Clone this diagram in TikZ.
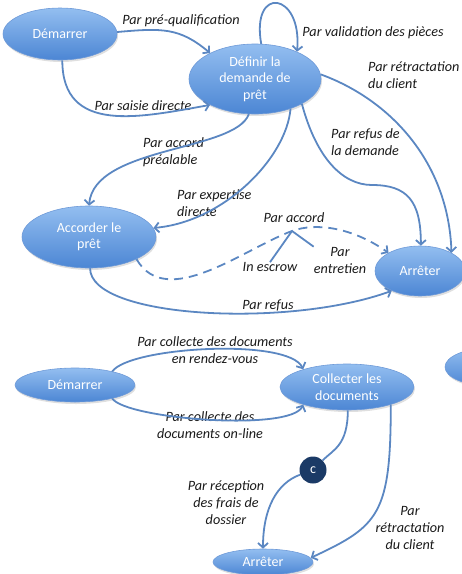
\documentclass[tikz,border=0pt]{standalone}
\usepackage{fontspec}
\setmainfont{Carlito}
\usetikzlibrary{shapes.geometric,arrows.meta,shadows}
\definecolor{edgeblue}{HTML}{5B87C2}
\definecolor{elltop}{HTML}{93BEF0}
\definecolor{ellbot}{HTML}{4C86D4}
\definecolor{elledge}{HTML}{6E9AD8}
\definecolor{labeltext}{HTML}{1A1A1A}
\definecolor{navy}{HTML}{1B3A66}
\begin{document}
\begin{tikzpicture}[x=1pt,y=1pt,
  st/.style={ellipse, inner sep=0pt, top color=elltop, bottom color=ellbot,
    draw=elledge, line width=0.6pt, text=white, align=center,
    font=\fontsize{14}{16.5}\selectfont,
    drop shadow={opacity=0.25, shadow xshift=1pt, shadow yshift=-2pt}},
  lbl/.style={font=\itshape\fontsize{14.2}{17}\selectfont, text=labeltext, inner sep=0pt},
  link/.style={draw=edgeblue, line width=1.8pt},
  conn/.style={link, -{Straight Barb[length=4.5pt,width=10pt]}},
]
\useasboundingbox (0,0) rectangle (462,-574);
\clip (0,0) rectangle (462,-574);

% ---- top diagram nodes
\node[st, minimum width=114pt, minimum height=52pt] (d1) at (60,-34) {Démarrer};
\node[st, minimum width=132pt, minimum height=70pt] (def) at (255,-79) {Définir la\\demande de\\prêt};
\node[st, minimum width=134pt, minimum height=62pt] (acc) at (89,-237) {Accorder le\\prêt};
\node[st, minimum width=90pt, minimum height=50pt] (arr1) at (420,-271) {Arrêter};

% ---- bottom diagram nodes
\node[st, minimum width=120pt, minimum height=34pt] (d2) at (75,-385) {Démarrer};
\node[st, minimum width=134pt, minimum height=46pt] (col) at (347,-387) {Collecter les\\documents};
\node[st, minimum width=100pt, minimum height=26pt] (arr2) at (263,-562) {Arrêter};
\node[circle, fill=navy, minimum size=27pt, inner sep=0pt, text=white,
      font=\fontsize{14}{16}\selectfont] (cc) at (313,-470) {c};
\node[st, minimum width=90pt, minimum height=38pt] (px) at (490,-367) {};

% ---- labels
\node[lbl] (lpre) at (181,-21) {Par pré-qualification};
\node[lbl] (lsai) at (143,-106) {Par saisie directe};
\node[lbl] (lval) at (373,-33) {Par validation des pièces};
\node[lbl, anchor=west, align=left] (lret) at (368,-75) {Par rétractation\\du client};
\node[lbl, anchor=west, align=left] (lrefd) at (331,-142) {Par refus de\\la demande};
\node[lbl, anchor=west, align=left] (lacp) at (143,-152) {Par accord\\préalable};
\node[lbl, anchor=west, align=left] (lexp) at (177,-203) {Par expertise\\directe};
\node[lbl] (lpacc) at (294,-218) {Par accord};
\node[lbl] (esc) at (270,-267) {In escrow};
\node[lbl, align=center] (ent) at (340,-260) {Par\\entretien};
\node[lbl] (lref) at (268,-305) {Par refus};
\node[lbl, align=center] (lrdv) at (215,-350) {Par collecte des documents\\en rendez-vous};
\node[lbl, align=center] (lonl) at (210,-425) {Par collecte des\\documents on-line};
\node[lbl, align=center] (lrec) at (226,-503) {Par réception\\des frais de\\dossier};
\node[lbl, align=center] (lret2) at (410,-528) {Par\\rétractation\\du client};

% ---- top connectors
\draw[conn] (d1.2) .. controls +(5:45) and +(140:40) .. (def.150);
\draw[conn] (d1.-85) .. controls +(-90:75) and +(190:70) .. (def.210);
\draw[conn] (def.80) .. controls +(100:60) and +(85:60) .. (def.33);
\draw[conn] (def.4) .. controls +(-20:75) and +(92:90) .. (arr1.30);
\draw[conn] (def.-28) .. controls +(-75:55) and +(180:30) .. (372,-185)
            .. controls +(0:35) and +(90:45) .. (arr1.88);
\draw[conn] (def.-100) .. controls +(-110:40) and +(85:60) .. (acc.90);
\draw[conn] (def.-40) .. controls +(-95:50) and +(5:70) .. (acc.8);
\coordinate (pk) at (292,-231);
\draw[conn, dash pattern=on 9pt off 6pt] (acc.-25) .. controls +(-60:60) and +(200:50) .. (pk)
            .. controls +(20:25) and +(145:45) .. (arr1.150);
\draw[link] (pk) -- (esc.north);
\draw[link] (pk) -- (ent.north west);
\draw[conn] (acc.-88) .. controls +(-90:50) and +(200:110) .. (arr1.215);

% ---- bottom connectors
\draw[conn] (d2.20) .. controls +(55:30) and +(115:35) .. (col.158);
\draw[conn] (d2.-20) .. controls +(-55:25) and +(-115:30) .. (col.-158);
\draw[link] (col.-88) .. controls +(-90:35) and +(45:15) .. (cc.45);
\draw[conn] (cc.200) .. controls +(200:25) and +(90:40) .. (arr2.90);
\draw[conn] (col.-22) .. controls +(-90:110) and +(25:75) .. (arr2.5);
\end{tikzpicture}
\end{document}
